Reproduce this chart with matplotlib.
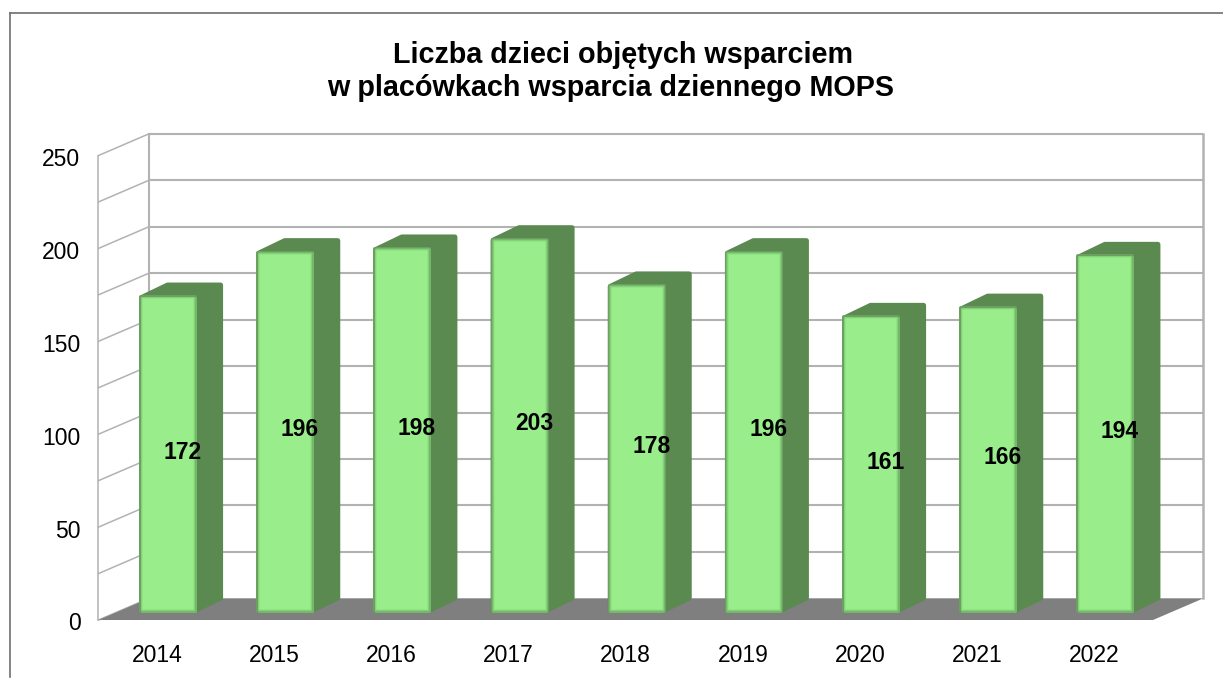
import numpy as np
import matplotlib
matplotlib.use('Agg')
import matplotlib.pyplot as plt
from matplotlib.patches import Polygon
from matplotlib.transforms import ScaledTranslation

plt.rcParams['font.family'] = ['Liberation Sans', 'DejaVu Sans']

years = ['2014', '2015', '2016', '2017', '2018', '2019', '2020', '2021', '2022']
values = [172, 196, 198, 203, 178, 196, 161, 166, 194]
y_ticks = [0, 50, 100, 150, 200, 250]
title_1 = 'Liczba dzieci objętych wsparciem'
title_2 = 'w placówkach wsparcia dziennego MOPS'

W, H = 1223, 678
fig = plt.figure(figsize=(W / 100, H / 100), dpi=100, facecolor='white')

# axes sit on the front plane of the fake 3d box
L, R, B, T = 98.5, 1153.0, 620.0, 155.5
ax = fig.add_axes([L / W, 1 - B / H, (R - L) / W, (B - T) / H])
ax.set_xlim(-0.5, 8.5)
ax.set_ylim(0, 250)
ax.patch.set_visible(False)
for s in ax.spines.values():
    s.set_visible(False)

px = 9 / (R - L)      # data units per pixel, x
py = 250 / (B - T)    # data units per pixel, y
wall_dx = 50.5 * px
wall_dy = 21.7 * py

grey = '#b2b2b2'
# floor
ax.add_patch(Polygon([(-0.5, 0), (8.5, 0), (8.5 + wall_dx, wall_dy), (-0.5 + wall_dx, wall_dy)],
                     closed=True, fc='#7f7f7f', ec='none', clip_on=False, zorder=2))
# gridlines: back wall and left wall, every 25
for g in range(0, 251, 25):
    if g > 0:
        ax.plot([-0.5 + wall_dx, 8.5 + wall_dx], [g + wall_dy, g + wall_dy], color=grey, lw=1.5,
                clip_on=False, zorder=1, solid_capstyle='butt')
    ax.plot([-0.5, -0.5 + wall_dx], [g, g + wall_dy], color=grey, lw=1.1, clip_on=False, zorder=1)
ax.plot([-0.5, -0.5], [0, 250], color=grey, lw=1.1, clip_on=False, zorder=1)
ax.plot([-0.5 + wall_dx] * 2, [wall_dy, 250 + wall_dy], color=grey, lw=1.5, clip_on=False, zorder=1)
ax.plot([8.5 + wall_dx] * 2, [wall_dy, 250 + wall_dy], color=grey, lw=1.8, clip_on=False, zorder=1)

# bars
bar_w = 58 * px
shift = 11 * px
base = 7 * py
depth_x = 26 * px
depth_y = 12.5 * py
yscale = 0.995
dark = '#5a8a50'
r = 2.5  # corner radius in px, comes from the round join of a thick edge
x = np.arange(len(years))
for xi, v in zip(x, values):
    x0 = xi + shift - bar_w / 2 + r * px
    x1 = xi + shift + bar_w / 2 - r * px
    top = base + v * yscale - r * py
    ax.add_patch(Polygon([(x0, base + r * py), (x1, base + r * py), (x1 + depth_x, base + r * py + depth_y),
                          (x1 + depth_x, top + depth_y), (x0 + depth_x, top + depth_y), (x0, top)],
                         closed=True, fc=dark, ec=dark, lw=2 * r * 0.72, joinstyle='round',
                         clip_on=False, zorder=3))
    ax.text(xi + shift + 14.5 * px, base + v * yscale / 2 + 1, str(v), ha='center', va='center',
            fontsize=16.5, fontweight='bold', color='black', zorder=6)

# front faces, nested to fake the soft bevel
tops = np.array(values) * yscale
layers = [(0, '#6c9f61', 2.0), (1, '#74b96a', 1.5), (2, '#84d278', 1.0), (3, '#91e384', 1.0), (4, '#99ee8b', 0.0)]
for inset, col, rad in layers:
    off = inset + rad
    ax.bar(x + shift, tops - 2 * off * py, width=bar_w - 2 * off * px, bottom=base + off * py,
           color=col, edgecolor=col, linewidth=2 * rad * 0.72, joinstyle='round', clip_on=False,
           zorder=4 + inset * 0.1)

ax.set_xticks(x)
ax.set_xticklabels(years, fontsize=16.5)
ax.set_yticks(y_ticks)
ax.set_yticklabels([str(t) for t in y_ticks], fontsize=16.5)
ax.tick_params(axis='x', length=0, pad=17)
ax.tick_params(axis='y', length=0, pad=13)
nudge = ScaledTranslation(0, -1.5 / 100, fig.dpi_scale_trans)
for lab in ax.get_yticklabels():
    lab.set_transform(lab.get_transform() + nudge)

# first title line sits off centre in the original
fig.text(623 / W, 1 - 63 / H, title_1, ha='center', va='baseline', fontsize=20.7, fontweight='bold')
fig.text(610.5 / W, 1 - 96 / H, title_2, ha='center', va='baseline', fontsize=20.7, fontweight='bold')

# chart frame, only left and top show in the crop
frame = '#6e6e6e'
fig.add_artist(plt.Line2D([10 / W, 10 / W], [1 - 677 / H, 1 - 12.7 / H], color=frame, lw=1.2))
fig.add_artist(plt.Line2D([10 / W, 1], [1 - 12.7 / H, 1 - 12.7 / H], color=frame, lw=1.2))

fig.savefig('out.png', dpi=100)
